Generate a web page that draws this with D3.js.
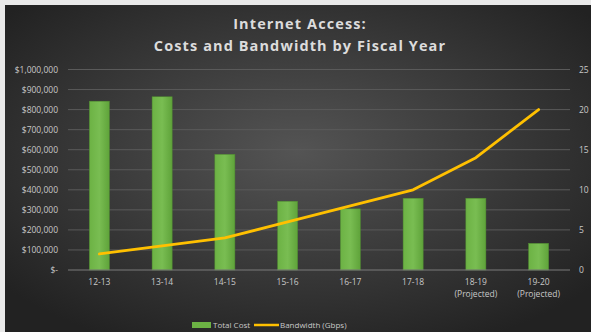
<!DOCTYPE html>
<html>
<head>
<meta charset="utf-8">
<script src="https://cdn.jsdelivr.net/npm/d3@7"></script>
<style>
  body { margin: 0; background: #e9e9e9; }
  svg { display: block; }
  text { font-family: "Open Sans", "Liberation Sans", sans-serif; }
</style>
</head>
<body>
<script>
const years = ["12-13", "13-14", "14-15", "15-16", "16-17", "17-18", "18-19", "19-20"];
const yearNotes = ["", "", "", "", "", "", "(Projected)", "(Projected)"];
const totalCost = [842000, 864000, 577000, 343000, 305000, 358000, 358000, 133000];
const bandwidth = [2, 3, 4, 6, 8, 10, 14, 20];
const costTicks = [0, 100000, 200000, 300000, 400000, 500000, 600000, 700000, 800000, 900000, 1000000];
const bwTicks = [0, 5, 10, 15, 20, 25];

const width = 591, height = 332;
const plot = {left: 68, right: 570, top: 69.5, bottom: 270};

const svg = d3.select("body").append("svg")
    .attr("width", width)
    .attr("height", height);

const defs = svg.append("defs");
const bg = defs.append("radialGradient")
    .attr("id", "bg")
    .attr("cx", "50%").attr("cy", "45%").attr("r", "65%");
bg.append("stop").attr("offset", "0%").attr("stop-color", "#545454");
bg.append("stop").attr("offset", "100%").attr("stop-color", "#222222");

const barGrad = defs.append("linearGradient")
    .attr("id", "bar")
    .attr("x1", 0).attr("x2", 1).attr("y1", 0).attr("y2", 0);
barGrad.append("stop").attr("offset", "0%").attr("stop-color", "#6cb244");
barGrad.append("stop").attr("offset", "50%").attr("stop-color", "#79bd52");
barGrad.append("stop").attr("offset", "100%").attr("stop-color", "#5fa33a");

svg.append("rect")
    .attr("x", 5).attr("y", 5)
    .attr("width", width - 5).attr("height", height - 5)
    .attr("fill", "url(#bg)");

// title
const title = svg.append("text")
    .attr("text-anchor", "middle")
    .attr("fill", "#dcdcdc")
    .attr("font-size", 14.5)
    .attr("font-weight", "bold")
    .attr("letter-spacing", 1.1);
title.append("tspan").attr("x", 300).attr("y", 29).text("Internet Access:");
title.append("tspan").attr("x", 300).attr("y", 51).text("Costs and Bandwidth by Fiscal Year");

const x = d3.scaleBand()
    .domain(years)
    .range([plot.left, plot.right])
    .paddingInner(0.68)
    .paddingOuter(0.34);

const yCost = d3.scaleLinear().domain([0, 1000000]).range([plot.bottom, plot.top]);
const yBw = d3.scaleLinear().domain([0, 25]).range([plot.bottom, plot.top]);

// gridlines
svg.append("g")
    .selectAll("line")
    .data(costTicks.slice(1))
    .join("line")
    .attr("x1", plot.left).attr("x2", plot.right)
    .attr("y1", d => yCost(d)).attr("y2", d => yCost(d))
    .attr("stroke", "#5a5a5a")
    .attr("stroke-width", 1);

// left axis
const fmtCost = d => d === 0 ? "$-" : "$" + d3.format(",")(d);
const leftAxis = svg.append("g")
    .attr("transform", `translate(${plot.left - 10},0)`)
    .call(d3.axisLeft(yCost).tickValues(costTicks).tickFormat(fmtCost).tickSize(0).tickPadding(0));
leftAxis.select(".domain").remove();
leftAxis.selectAll("text")
    .attr("fill", "#c8c8c8")
    .attr("font-size", 8.5);

// right axis
const rightAxis = svg.append("g")
    .attr("transform", `translate(${plot.right + 9},0)`)
    .call(d3.axisRight(yBw).tickValues(bwTicks).tickSize(0).tickPadding(0));
rightAxis.select(".domain").remove();
rightAxis.selectAll("text")
    .attr("fill", "#c8c8c8")
    .attr("font-size", 8.5);

// bars
svg.append("g")
    .selectAll("rect")
    .data(years)
    .join("rect")
    .attr("x", d => x(d))
    .attr("width", x.bandwidth())
    .attr("y", (d, i) => yCost(totalCost[i]))
    .attr("height", (d, i) => plot.bottom - yCost(totalCost[i]))
    .attr("fill", "url(#bar)")
    .attr("stroke", "#4f8a30")
    .attr("stroke-width", 0.5);

// baseline
svg.append("line")
    .attr("x1", plot.left).attr("x2", plot.right)
    .attr("y1", plot.bottom).attr("y2", plot.bottom)
    .attr("stroke", "#7a7a7a");

// bandwidth line
const line = d3.line()
    .x((d, i) => x(years[i]) + x.bandwidth() / 2)
    .y(d => yBw(d));
svg.append("path")
    .datum(bandwidth)
    .attr("d", line)
    .attr("fill", "none")
    .attr("stroke", "#ffc000")
    .attr("stroke-width", 2.8)
    .attr("stroke-linejoin", "round")
    .attr("stroke-linecap", "round");

// x labels
const xl = svg.append("g")
    .selectAll("text")
    .data(years)
    .join("text")
    .attr("text-anchor", "middle")
    .attr("fill", "#c8c8c8")
    .attr("font-size", 8.5);
xl.append("tspan")
    .attr("x", d => x(d) + x.bandwidth() / 2)
    .attr("y", 285)
    .text(d => d);
xl.append("tspan")
    .attr("x", d => x(d) + x.bandwidth() / 2)
    .attr("y", 297)
    .text((d, i) => yearNotes[i]);

// legend
const legend = svg.append("g");
legend.append("rect")
    .attr("x", 192).attr("y", 322)
    .attr("width", 19).attr("height", 6)
    .attr("fill", "#6cb244");
legend.append("text")
    .attr("x", 213).attr("y", 328)
    .attr("fill", "#c8c8c8").attr("font-size", 8)
    .text("Total Cost");
legend.append("line")
    .attr("x1", 254).attr("x2", 279)
    .attr("y1", 325).attr("y2", 325)
    .attr("stroke", "#ffc000").attr("stroke-width", 2.5);
legend.append("text")
    .attr("x", 280).attr("y", 328)
    .attr("fill", "#c8c8c8").attr("font-size", 8)
    .text("Bandwidth (Gbps)");
</script>
</body>
</html>
